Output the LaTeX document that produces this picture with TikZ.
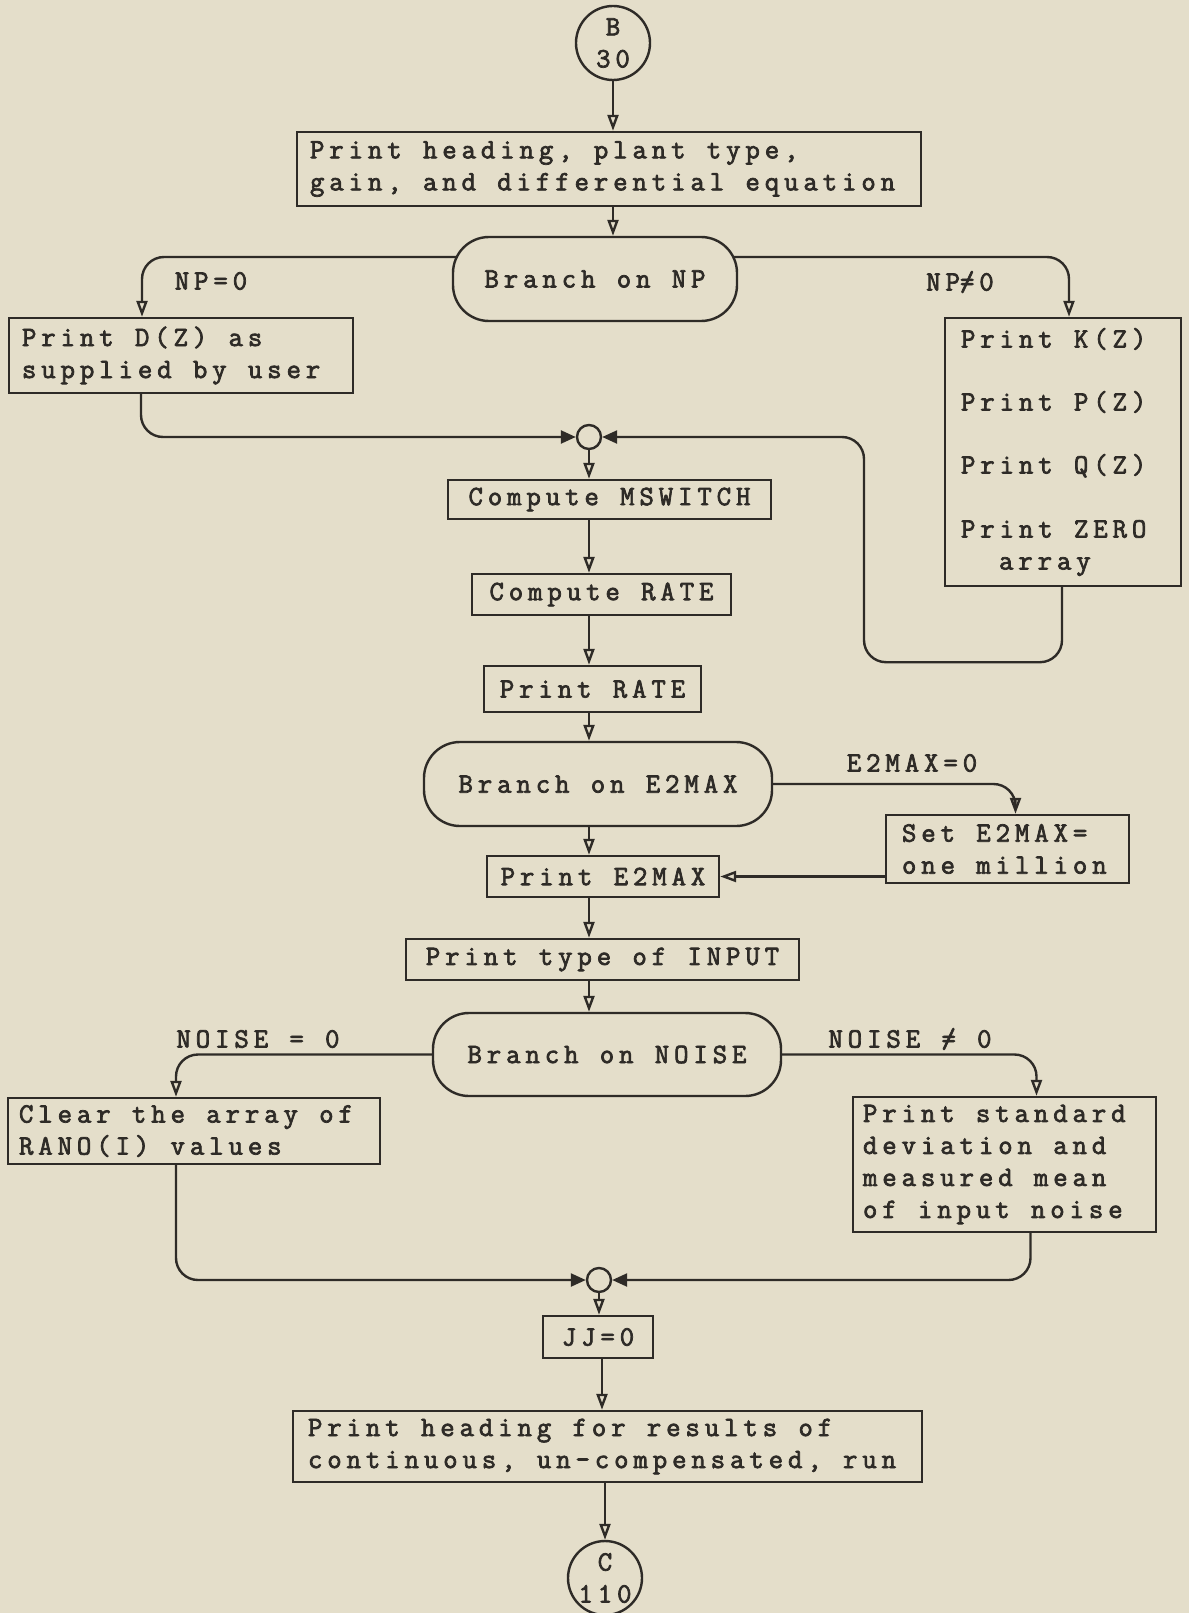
\documentclass[tikz,border=0pt]{standalone}
\usepackage{fontspec}
\usetikzlibrary{arrows.meta,calc}
\newfontfamily\tw{Latin Modern Mono}[LetterSpace=17.5, WordSpace=1.1, FakeBold=2.6]
\definecolor{bg}{RGB}{228,222,202}
\definecolor{ink}{RGB}{46,43,39}
\begin{document}
\begin{tikzpicture}[x=1pt,y=-1pt,
  every node/.style={font=\tw\fontsize{28}{32}\selectfont, text=ink},
  box/.style={draw=ink, line width=2.4pt, rectangle, inner ysep=0pt},
  lbox/.style={box, align=left},
  rbox/.style={draw=ink, line width=2.4pt, rectangle, rounded corners=36pt, align=center},
  conn/.style={draw=ink, line width=2.4pt, inner sep=0pt, circle},
  jn/.style={draw=ink, line width=2.4pt, circle, minimum size=24pt, inner sep=0pt},
  lbl/.style={inner sep=0pt},
  arr/.style={draw=ink, line width=2.4pt, -{Triangle[open, length=16pt, width=11pt]}},
  jarr/.style={draw=ink, line width=2.4pt, -{Triangle[length=15pt, width=13pt]}},
  rc/.style={rounded corners=22pt}]
\useasboundingbox (0,0) rectangle (1189,1613);
\fill[bg] (0,0) rectangle (1189,1613);

\node[conn, minimum size=74pt, align=center] (b30) at (613,43) {B\\30};
\node[lbox, minimum width=624pt, minimum height=74pt] (h1) at (609,169) {};
\node[lbl, anchor=west, align=left] (h1t) at ($(h1.west)+(14,0)$)
  {Print heading, plant type,\\gain, and differential equation};
\node[rbox, minimum width=284pt, minimum height=84pt] (bnp) at (595,279) {Branch on NP};
\node[box, minimum width=344pt, minimum height=75pt] (dz) at (181,355.5) {};
\node[lbl, anchor=west, align=left] (dzt) at ($(dz.west)+(14,0)$)
  {Print D(Z) as\\supplied by user};
\node[box, minimum width=236pt, minimum height=268pt] (kz) at (1063,452) {};
\node[lbl, anchor=west, align=left] (kzt) at ($(kz.west)+(17,0)$)
  {Print K(Z)\\[31pt]Print P(Z)\\[31pt]Print Q(Z)\\[32pt]Print ZERO\\\hspace*{38pt}array};
\node[jn] (j1) at (589,437) {};
\node[box, minimum width=323pt, minimum height=39pt] (msw) at (609.5,499.5) {Compute MSWITCH};
\node[box, minimum width=259pt, minimum height=41pt] (rate) at (601.5,594.5) {Compute RATE};
\node[box, minimum width=217pt, minimum height=46pt] (prate) at (592.5,689) {Print RATE};
\node[rbox, minimum width=348pt, minimum height=84pt] (be2) at (598,784) {Branch on E2MAX};
\node[box, minimum width=232pt, minimum height=41pt] (pe2) at (603,876.5) {Print E2MAX};
\node[box, minimum width=243pt, minimum height=68pt] (set) at (1007.5,849) {};
\node[lbl, anchor=west, align=left] (sett) at ($(set.west)+(17,0)$)
  {Set E2MAX=\\one million};
\node[box, minimum width=393pt, minimum height=41pt] (pti) at (602.5,959.5) {Print type of INPUT};
\node[rbox, minimum width=348pt, minimum height=83pt] (bno) at (607,1054.5) {Branch on NOISE};
\node[box, minimum width=372pt, minimum height=66pt] (clr) at (194,1131) {};
\node[lbl, anchor=west, align=left] (clrt) at ($(clr.west)+(12,0)$)
  {Clear the array of\\RANO(I) values};
\node[box, minimum width=303pt, minimum height=135pt] (std) at (1004.5,1164.5) {};
\node[lbl, anchor=west, align=left] (stdt) at ($(std.west)+(11,0)$)
  {Print standard\\deviation and\\measured mean\\of input noise};
\node[jn] (j2) at (599,1280) {};
\node[box, minimum width=110pt, minimum height=42pt] (jj) at (598,1337) {JJ=0};
\node[box, minimum width=629pt, minimum height=71pt] (res) at (607.5,1446.5) {};
\node[lbl, anchor=west, align=left] (rest) at ($(res.west)+(16,0)$)
  {Print heading for results of\\continuous, un-compensated, run};
\node[conn, minimum size=74pt, align=center] (c110) at (605,1578) {C\\110};

% labels
\node[lbl] (l1) at (211,281) {NP=0};
\node[lbl] (l2) at (960,282) {NP\rlap{/}=0};
\node[lbl] (l3) at (912,763) {E2MAX=0};
\node[lbl] (l4) at (258,1039) {NOISE = 0};
\node[lbl] (l5) at (910,1039) {NOISE \rlap{/}= 0};

% connectors
\draw[arr] (b30.south) -- (b30.south |- h1.north);
\draw[arr] (h1.south -| b30) -- (b30 |- bnp.north);
\draw[arr, rc] ($(bnp.west)+(4,-22)$) -| ($(dz.north)+(-39,0)$);
\draw[arr, rc] ($(bnp.east)+(-4,-22)$) -| ($(kz.north)+(6,0)$);
\draw[jarr, rc] ($(dz.south)+(-40,0)$) |- (j1.west);
\draw[jarr, rc] ($(kz.south)+(-1,0)$) -- ++(0,75) -- ++(-198,0) |- (j1.east);
\draw[arr] (j1.south) -- (j1.south |- msw.north);
\draw[arr] (msw.south -| j1) -- (rate.north -| j1);
\draw[arr] (rate.south -| j1) -- (prate.north -| j1);
\draw[arr] (prate.south -| j1) -- (be2.north -| j1);
\draw[arr] (be2.south -| j1) -- (pe2.north -| j1);
\draw[arr] (pe2.south -| j1) -- (pti.north -| j1);
\draw[arr] (pti.south -| j1) -- (bno.north -| j1);
\draw[arr, rc] (be2.east) -| ($(set.north)+(8,0)$);
\draw[arr] (set.west |- pe2.east) -- (pe2.east);
\draw[arr, rc] (bno.west) -| ($(clr.north)+(-18,0)$);
\draw[arr, rc] (bno.east) -| ($(std.north)+(32,0)$);
\draw[jarr, rc] ($(clr.south)+(-18,0)$) |- (j2.west);
\draw[jarr, rc] ($(std.south)+(26,0)$) |- (j2.east);
\draw[arr] (j2.south) -- (j2.south |- jj.north);
\draw[arr] ($(jj.south)+(4,0)$) -- ($(jj.south |- res.north)+(4,0)$);
\draw[arr] (res.south -| c110) -- (c110.north);
\end{tikzpicture}
\end{document}
